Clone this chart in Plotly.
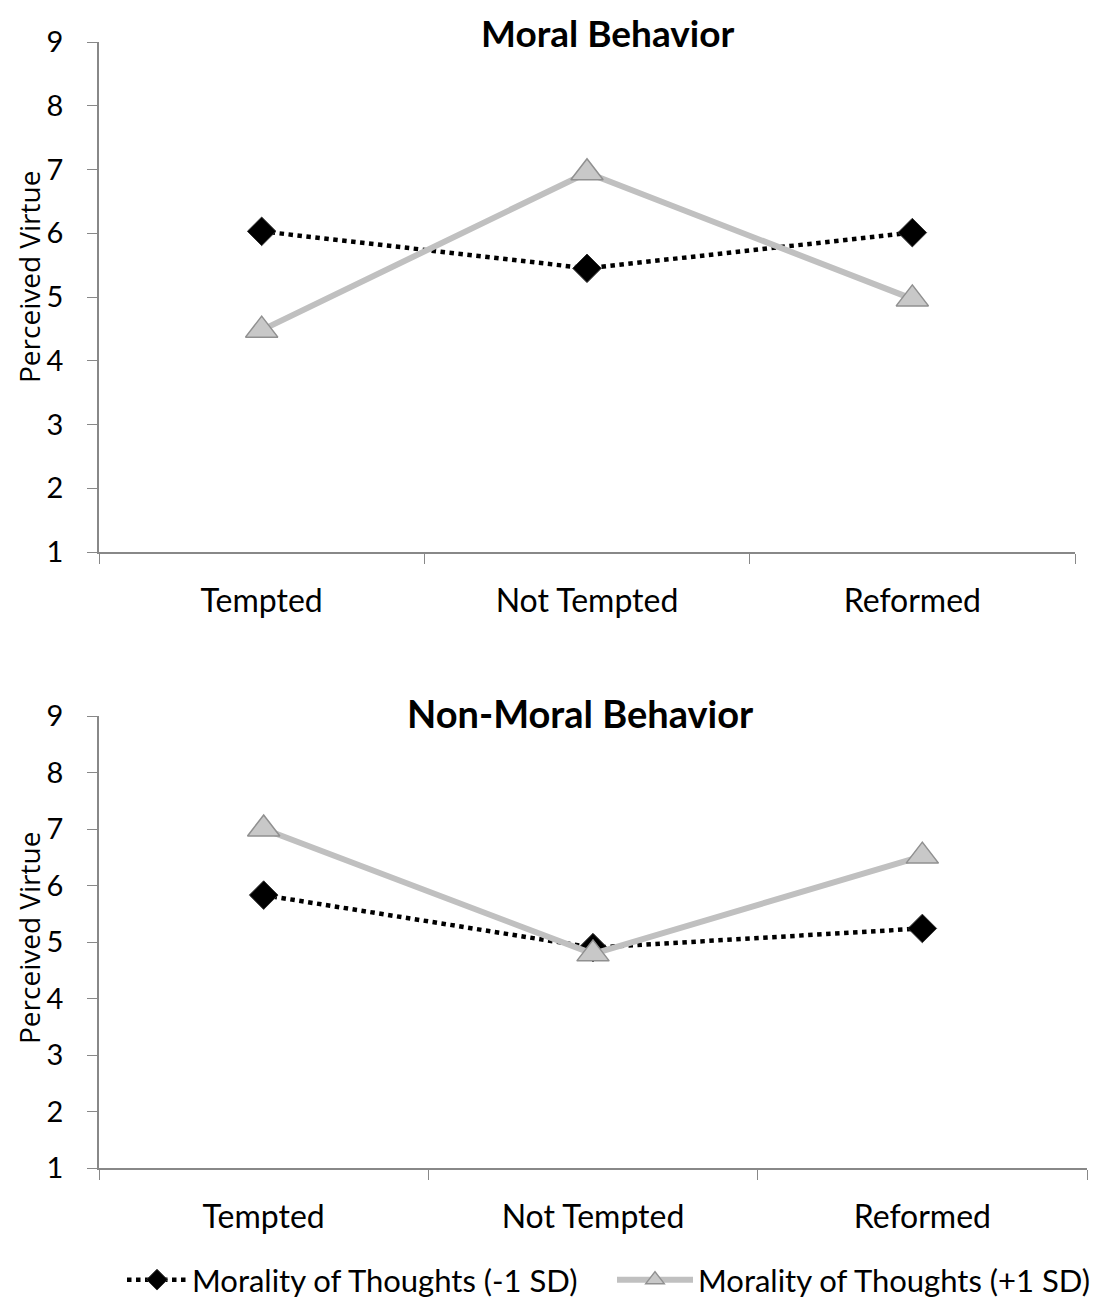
import plotly.graph_objects as go

categories = ["Tempted", "Not Tempted", "Reformed"]
moral_low = [6.03, 5.45, 6.01]
moral_high = [4.48, 6.95, 4.97]
nonmoral_low = [5.83, 4.90, 5.24]
nonmoral_high = [7.00, 4.79, 6.52]
series_names = ["Morality of Thoughts (-1 SD)", "Morality of Thoughts (+1 SD)"]
titles = ["Moral Behavior", "Non-Moral Behavior"]
y_title = "Perceived Virtue"
y_ticks = [1, 2, 3, 4, 5, 6, 7, 8, 9]

W, H = 1113, 1300
OFF = 8  # page body margin
FONT = "Lato, Open Sans, sans-serif"

def px(x):
    return (x - OFF) / W

def py(y):
    return 1 - (y - OFF) / H

fig = go.Figure()

low_line = dict(color="black", width=4.5, dash="dot")
low_marker = dict(symbol="diamond", size=22, color="black", line=dict(color="#333", width=1))
high_line = dict(color="#c0c0c0", width=6)
high_marker = dict(symbol="triangle-up", size=28, color="#c8c8c8", line=dict(color="#909090", width=1.5))

for i, (lo, hi) in enumerate([(moral_low, moral_high), (nonmoral_low, nonmoral_high)]):
    xa = "x" if i == 0 else "x2"
    ya = "y" if i == 0 else "y2"
    fig.add_trace(go.Scatter(x=categories, y=lo, mode="lines+markers", name=series_names[0],
                             line=low_line, marker=low_marker, xaxis=xa, yaxis=ya,
                             showlegend=(i == 1), legend="legend"))
    fig.add_trace(go.Scatter(x=categories, y=hi, mode="lines+markers", name=series_names[1],
                             line=high_line, marker=high_marker, xaxis=xa, yaxis=ya,
                             showlegend=(i == 1), legend="legend2"))

axis_common_x = dict(type="category", range=[-0.5, 2.5], tickson="boundaries", ticks="outside", ticklen=10,
                     tickcolor="#888", showline=True, linecolor="#888", linewidth=1.5,
                     showgrid=False, zeroline=False, automargin=False, ticklabelstandoff=20,
                     tickfont=dict(family=FONT, size=32, color="black"), fixedrange=True)
axis_common_y = dict(range=[1, 9], tickvals=y_ticks, ticks="outside", ticklen=10,
                     tickcolor="#888", showline=True, linecolor="#888", linewidth=1.5,
                     showgrid=False, zeroline=False, automargin=False, ticklabelstandoff=18,
                     tickfont=dict(family=FONT, size=29, color="black"))

legend_common = dict(orientation="h", xanchor="left", y=py(1280), yanchor="middle",
                     font=dict(family=FONT, size=31, color="black"),
                     bgcolor="rgba(0,0,0,0)")

fig.update_layout(
    width=W, height=H,
    margin=dict(l=0, r=0, t=0, b=0),
    paper_bgcolor="white", plot_bgcolor="white",
    xaxis=dict(domain=[px(99), px(1075)], anchor="y", **axis_common_x),
    yaxis=dict(domain=[py(552), py(42)], anchor="x", **axis_common_y),
    xaxis2=dict(domain=[px(99), px(1087)], anchor="y2", **axis_common_x),
    yaxis2=dict(domain=[py(1168), py(716)], anchor="x2", **axis_common_y),
    legend=dict(x=px(122), itemwidth=60, **legend_common),
    legend2=dict(x=px(612), itemwidth=76, **legend_common),
    annotations=[
        dict(text="<b>" + titles[0] + "</b>", x=px(607), y=1, xref="paper", yref="paper",
             xanchor="center", yanchor="top",
             showarrow=False, font=dict(family=FONT, size=37, color="black")),
        dict(text="<b>" + titles[1] + "</b>", x=px(580), y=py(713), xref="paper", yref="paper",
             xanchor="center", yanchor="middle",
             showarrow=False, font=dict(family=FONT, size=38, color="black")),
        dict(text=y_title, x=0, y=py(277), xref="paper", yref="paper", textangle=-90,
             xanchor="left", yanchor="middle", showarrow=False,
             font=dict(family="Open Sans, sans-serif", size=28, color="black")),
        dict(text=y_title, x=0, y=py(938), xref="paper", yref="paper", textangle=-90,
             xanchor="left", yanchor="middle", showarrow=False,
             font=dict(family="Open Sans, sans-serif", size=28, color="black")),
    ],
)

fig.write_html("out.html")
